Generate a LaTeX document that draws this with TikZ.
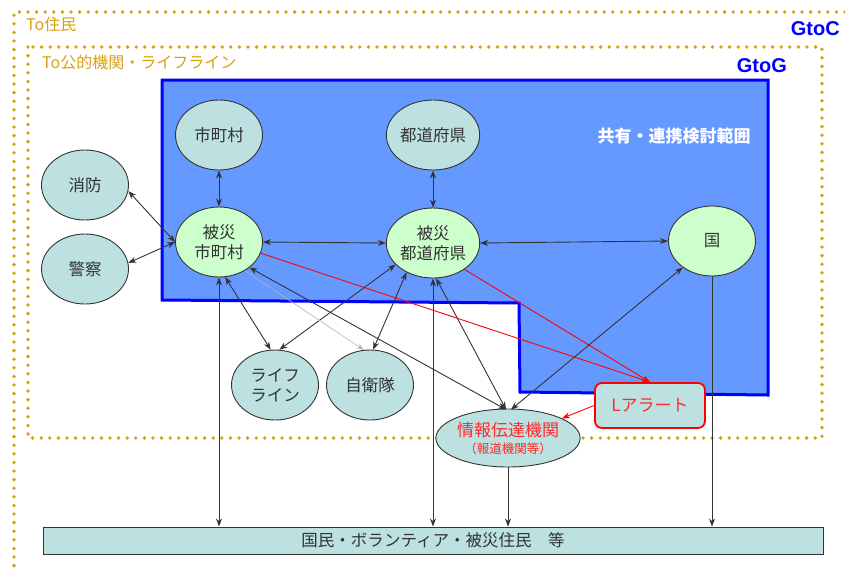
\documentclass[tikz,border=0pt]{standalone}
\usepackage{fontspec}
\setmainfont{Noto Sans CJK JP}
\newfontfamily\latinf{Liberation Sans}
\usetikzlibrary{shapes.geometric,arrows.meta,calc}
\definecolor{gold}{HTML}{DAA010}
\definecolor{bluefill}{HTML}{6699FF}
\definecolor{tealf}{HTML}{BDE0E0}
\definecolor{lgreen}{HTML}{CCFFCC}
\definecolor{lineg}{HTML}{333333}
\definecolor{redt}{HTML}{FF2A2A}
\begin{document}
\begin{tikzpicture}[x=1pt,y=-1pt,
  el/.style={ellipse, draw=lineg, line width=0.9pt, inner sep=0pt, minimum width=87pt, minimum height=70pt, fill=tealf, font=\fontsize{16.5}{20}\selectfont, align=center, text=black!80},
  gel/.style={el, fill=lgreen},
  bi/.style={draw=lineg, line width=0.9pt, {Stealth[length=8pt,width=6pt]}-{Stealth[length=8pt,width=6pt]}},
  uni/.style={draw=lineg, line width=0.9pt, -{Stealth[length=8pt,width=6pt]}},
  redc/.style={draw=red, line width=0.9pt, -{Stealth[length=8pt,width=6pt]}},
  dotbox/.style={draw=gold, line width=3.8pt, line cap=round, dash pattern=on 0pt off 8.6pt},
  glabel/.style={text=gold, font=\fontsize{16}{19}\selectfont, anchor=west, inner sep=0pt},
  blabel/.style={text=blue, font=\latinf\bfseries\fontsize{20}{23}\selectfont, anchor=east, inner sep=0pt}
]
\useasboundingbox (0,0) rectangle (845,571);
% dotted boxes
\draw[dotbox] (845,12) -- (14,12) -- (14,571);
\draw[dotbox] (28,47) rectangle (822,438);
\node[glabel] (toj) at (26,24) {To住民};
\node[glabel] (tok) at (42,62) {To公的機関・ライフライン};
\node[blabel] (gtoc) at (840,29) {GtoC};
\node[blabel] (gtog) at (787,66) {GtoG};
% blue region
\draw[blue, line width=3pt, fill=bluefill] (162,80) -- (768,80) -- (768,395) -- (520,392) -- (519,303) -- (162,300) -- cycle;
\node[text=white, font=\fontsize{17}{20}\selectfont\bfseries, inner sep=0pt] (share) at (674,136) {共有・連携検討範囲};
% nodes
\node[el] (sc) at (219,135) {市町村};
\node[el] (td) at (433,135) {都道府県};
\node[el] (shobo) at (85,185) {消防};
\node[el] (keisatsu) at (85,269) {警察};
\node[gel] (hsc) at (219,242) {被災\\市町村};
\node[gel] (htd) at (433,243) {被災\\都道府県};
\node[gel] (kuni) at (712,241) {国};
\node[el] (life) at (275,385) {ライフ\\ライン};
\node[el] (jiei) at (370,385) {自衛隊};
\node[el, minimum width=134pt, minimum height=58pt, text=redt, font=\fontsize{17}{20}\selectfont] (info) at (508,438) {情報伝達機関\\[-3pt]{\fontsize{12.5}{14}\selectfont（報道機関等）}};
\node[draw=red, line width=1.8pt, rounded corners=7pt, fill=tealf, minimum width=110pt, minimum height=45pt, inner sep=0pt, text=redt, font=\fontsize{17}{20}\selectfont] (lalert) at (650,405.5) {Lアラート};
\node[draw=lineg, line width=0.9pt, fill=tealf, minimum width=780pt, minimum height=27pt, inner sep=0pt, font=\fontsize{16.5}{20}\selectfont, text=black!80] (people) at (433,540.5) {国民・ボランティア・被災住民　等};
% connectors
\draw[bi] (sc.south) -- (hsc.north);
\draw[bi] (td.south) -- (htd.north);
\draw[bi] (shobo.-8) -- (hsc.west);
\draw[bi] (keisatsu.8) -- (hsc.west);
\draw[bi] (hsc.east) -- (htd.west);
\draw[bi] (htd.east) -- (kuni.west);
\draw[redc] (hsc.-15) -- (lalert.north);
\draw[redc] (htd.-40) -- (lalert.north);
\draw[redc] (lalert.west) -- (info.20);
\draw[bi] (hsc.-40) -- ($(info.north)+(-2,1)$);
\draw[bi] (htd.-85) -- ($(info.north)+(-2,1)$);
\draw[bi] (kuni.-138) -- ($(info.north)+(3,1)$);
\draw[bi] (hsc.south) -- (hsc.south |- people.north);
\draw[bi] (htd.south) -- (htd.south |- people.north);
\draw[uni] (info.south) -- (info.south |- people.north);
\draw[uni] (kuni.south) -- (kuni.south |- people.north);
\draw[bi] (hsc.-80) -- (life.97);
\draw[bi] (htd.-150) -- (life.83);
\draw[bi] (htd.-132) -- (jiei.85);
\draw[draw=black!30, line width=0.6pt, -{Stealth[length=7pt,width=5pt]}] (hsc.-48) -- (jiei.100);
\end{tikzpicture}
\end{document}
